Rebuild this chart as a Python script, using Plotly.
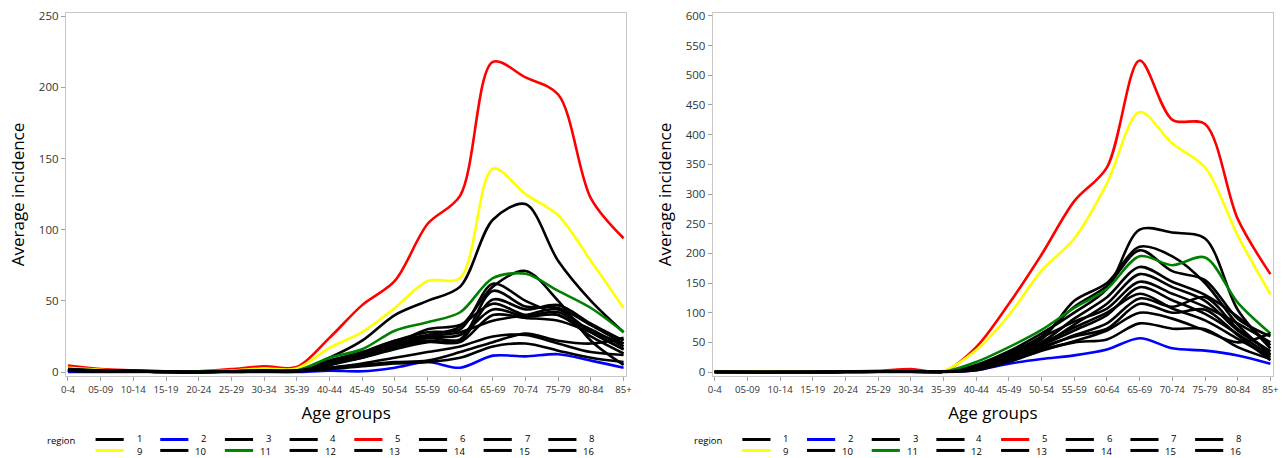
import plotly.graph_objects as go

# ---------------- data ----------------
age_groups = ["0-4", "05-09", "10-14", "15-19", "20-24", "25-29", "30-34", "35-39",
              "40-44", "45-49", "50-54", "55-59", "60-64", "65-69", "70-74", "75-79",
              "80-84", "85+"]
regions = [str(i) for i in range(1, 17)]
region_colors = ["#000000", "#0000FF", "#000000", "#000000", "#FF0000", "#000000",
                 "#000000", "#000000", "#FFFF00", "#000000", "#008000", "#000000",
                 "#000000", "#000000", "#000000", "#000000"]

# left panel: average incidence per region
left_r1 = [2, 1, 1, 0.5, 0.5, 1, 1.5, 1, 10, 22, 40, 50, 60, 107, 118, 78, 50, 28]
left_r2 = [0, 0, 0, 0, 0, 0, 0, 0, 1, 0.5, 3, 7, 3, 11.5, 11, 12.5, 8, 3]
left_r3 = [1, 1, 0.5, 0, 0, 0.5, 1, 0.5, 8, 14, 22, 26, 32, 60, 71, 50, 22, 5]
left_r4 = [1, 1, 0.5, 0.5, 0, 0.5, 1, 1, 7, 13, 22, 28, 30, 62, 50, 40, 30, 18]
left_r5 = [4.5, 2, 1.2, 0.5, 0.5, 2, 4, 3.5, 24, 47, 64, 104, 124, 218, 207, 195, 122, 94]
left_r6 = [2, 1, 1, 0, 0, 0.5, 1, 0.5, 6, 12, 20, 24, 23, 57, 46, 45, 33, 20]
left_r7 = [1, 0.5, 0.5, 0, 0.5, 0.5, 1, 1, 6, 10, 18, 22, 22, 51, 44, 47, 34, 22]
left_r8 = [1, 1, 0.5, 0, 0, 1, 1, 0.5, 5, 12, 20, 30, 33, 48, 40, 42, 28, 16]
left_r9 = [3, 1.5, 0, 0, 0.5, 1, 2.5, 2.5, 17, 28, 45, 64, 66, 143, 125, 110, 78, 45]
left_r10 = [2, 1, 0.5, 0.5, 0, 0.5, 1, 1, 5, 11, 17, 24, 26, 44, 39, 40, 25, 13]
left_r11 = [1, 1, 0.5, 0.5, 0.5, 0.5, 1, 1, 10, 16, 29, 35, 42, 66, 69, 57, 45, 28]
left_r12 = [1, 0.5, 0.5, 0, 0, 0.5, 1, 1, 5, 10, 16, 21, 21, 40, 38, 36, 28, 20]
left_r13 = [1, 0.5, 0.5, 0.5, 0, 0.5, 0.5, 0.5, 3, 6, 10, 14, 18, 25, 26, 20, 14, 12]
left_r14 = [1, 1, 0.5, 0, 0, 0.5, 0.5, 1, 3, 5, 7, 8, 14, 21, 27, 22, 20, 24]
left_r15 = [1, 0.5, 0.5, 0, 0, 0, 0.5, 0.5, 2, 4, 6, 7, 10, 18, 20, 15, 10, 7]
left_r16 = [2, 1, 0.5, 0.5, 0, 0.5, 1, 0.5, 6, 12, 19, 25, 28, 36, 40, 44, 28, 16]

# right panel: average incidence per region
right_r1 = [0.5, 0.5, 0, 0, 0.5, 0.5, 1, 0.5, 12, 35, 65, 100, 140, 240, 235, 225, 105, 40]
right_r2 = [0, 0, 0, 0, 0, 0, 0, 0, 3, 14, 22, 28, 38, 57, 40, 36, 28, 14]
right_r3 = [0.5, 0, 0, 0, 0.5, 0.5, 1, 0.5, 10, 30, 55, 120, 150, 211, 195, 150, 80, 30]
right_r4 = [0, 0, 0, 0, 0.5, 1, 1, 0.5, 10, 32, 60, 110, 145, 205, 170, 155, 90, 60]
right_r5 = [0, 0, 0, 0, 1, 2, 5, 1, 42, 115, 198, 288, 345, 525, 425, 418, 258, 165]
right_r6 = [0.5, 0, 0, 0, 0.5, 0.5, 1, 0.5, 8, 28, 50, 90, 126, 177, 152, 130, 93, 45]
right_r7 = [0, 0, 0, 0, 0.5, 0.5, 0.5, 0.5, 6, 25, 45, 80, 115, 165, 143, 120, 70, 35]
right_r8 = [0.5, 0, 0, 0, 0, 0.5, 1, 0.5, 8, 30, 58, 85, 107, 152, 132, 110, 82, 50]
right_r9 = [1, 1, 1, 0.5, 0.5, 1, 1, 2, 37, 96, 171, 225, 318, 438, 385, 345, 230, 131]
right_r10 = [0, 0, 0, 0, 0.5, 0.5, 1, 0.5, 6, 22, 45, 70, 96, 143, 121, 98, 64, 28]
right_r11 = [0, 0, 0, 0, 0.5, 0.5, 1, 0.5, 17, 42, 71, 108, 140, 195, 180, 193, 117, 65]
right_r12 = [0.5, 0, 0, 0, 0, 0.5, 0.5, 0.5, 5, 24, 48, 75, 100, 132, 107, 87, 56, 25]
right_r13 = [0, 0, 0, 0, 0.5, 0.5, 1, 0.5, 5, 20, 40, 62, 82, 124, 110, 126, 73, 35]
right_r14 = [0, 0, 0, 0, 0.5, 0.5, 0.5, 0.5, 5, 20, 42, 60, 73, 115, 100, 105, 62, 20]
right_r15 = [0.5, 0, 0, 0, 0, 0.5, 1, 0.5, 4, 18, 37, 52, 70, 100, 90, 70, 50, 65]
right_r16 = [0, 0, 0, 0, 0.5, 0.5, 0.5, 0.5, 3, 17, 36, 50, 55, 82, 73, 72, 42, 22]

left_series = [left_r1, left_r2, left_r3, left_r4, left_r5, left_r6, left_r7, left_r8,
               left_r9, left_r10, left_r11, left_r12, left_r13, left_r14, left_r15, left_r16]
right_series = [right_r1, right_r2, right_r3, right_r4, right_r5, right_r6, right_r7, right_r8,
                right_r9, right_r10, right_r11, right_r12, right_r13, right_r14, right_r15, right_r16]

# ---------------- layout geometry ----------------
W, H = 1287, 458
ML, MR, MT, MB = 66, 8, 12, 82.3
PW = W - ML - MR            # 1213
PH = H - MT - MB            # 363.7
SUBW = 563.0
RIGHT_OFF = PW - SUBW       # 650

FONT = "Open Sans"

fig = go.Figure()

for panel, series, xa, ya in [(0, left_series, "x", "y"), (1, right_series, "x2", "y2")]:
    for reg, vals, col in zip(regions, series, region_colors):
        fig.add_trace(go.Scatter(
            x=age_groups, y=vals, mode="lines", name=reg,
            line=dict(color=col, width=2.6, shape="spline", smoothing=0.9),
            xaxis=xa, yaxis=ya, showlegend=False,
            hovertemplate="region " + reg + "<br>%{x}: %{y}<extra></extra>"))

axis_common = dict(
    showline=True, mirror=True, linecolor="#C8C8C8", linewidth=1.2,
    showgrid=False, zeroline=False, ticks="outside", ticklen=4,
    tickcolor="#A0A0A0", tickwidth=1,
)

fig.update_layout(
    width=W, height=H,
    margin=dict(l=ML, r=MR, t=MT, b=MB, pad=0),
    paper_bgcolor="white", plot_bgcolor="white",
    font=dict(family=FONT, color="#000000"),
    xaxis=dict(domain=[0, SUBW / PW], range=[-0.06, 17.08], type="category",
               tickfont=dict(size=9.6, color="#333333"),
               title=dict(text="Age groups", font=dict(size=17, color="#000"), standoff=12),
               anchor="y", **axis_common),
    yaxis=dict(domain=[0, 1], range=[-2.8, 252.3], tick0=0, dtick=50,
               tickfont=dict(size=11.5, color="#333333"),
               title=dict(text="Average incidence", font=dict(size=17, color="#000"), standoff=9),
               anchor="x", **axis_common),
    xaxis2=dict(domain=[RIGHT_OFF / PW, 1.0], range=[-0.06, 17.08],
                type="category", tickfont=dict(size=9.6, color="#333333"),
                title=dict(text="Age groups", font=dict(size=17, color="#000"), standoff=12),
                anchor="y2", **axis_common),
    yaxis2=dict(domain=[0, 1], range=[-6.7, 605.0], tick0=0, dtick=50,
                tickfont=dict(size=11.5, color="#333333"),
                title=dict(text="Average incidence", font=dict(size=17, color="#000"), standoff=9),
                anchor="x2", **axis_common),
)

# ---------------- manual two-row legends (one under each panel) ----------------
def ypaper(py):
    return 1 - (py - MT) / PH

shapes = []
annotations = []
for xd in ["x domain", "x2 domain"]:
    annotations.append(dict(xref=xd, yref="paper", x=(61.3 - ML) / SUBW, y=ypaper(440.0),
                            text="region", showarrow=False, xanchor="center", yanchor="middle",
                            font=dict(size=9.5, color="#000", family=FONT)))
    for idx, (reg, col) in enumerate(zip(regions, region_colors)):
        k = idx % 8
        row = idx // 8
        py_line = 439.3 if row == 0 else 450.3
        py_text = 438.0 if row == 0 else 451.6
        x0 = (95.7 - ML + 65 * k) / SUBW
        x1 = (124.0 - ML + 65 * k) / SUBW
        shapes.append(dict(type="line", xref=xd, yref="paper", x0=x0, x1=x1,
                           y0=ypaper(py_line), y1=ypaper(py_line), line=dict(color=col, width=3)))
        annotations.append(dict(xref=xd, yref="paper", x=(143.0 - ML + 65 * k) / SUBW,
                                y=ypaper(py_text), text=reg, showarrow=False,
                                xanchor="right", yanchor="middle", borderpad=0,
                                font=dict(size=9.5, color="#000", family=FONT)))

fig.update_layout(shapes=shapes, annotations=annotations)

fig.write_html("out.html")
